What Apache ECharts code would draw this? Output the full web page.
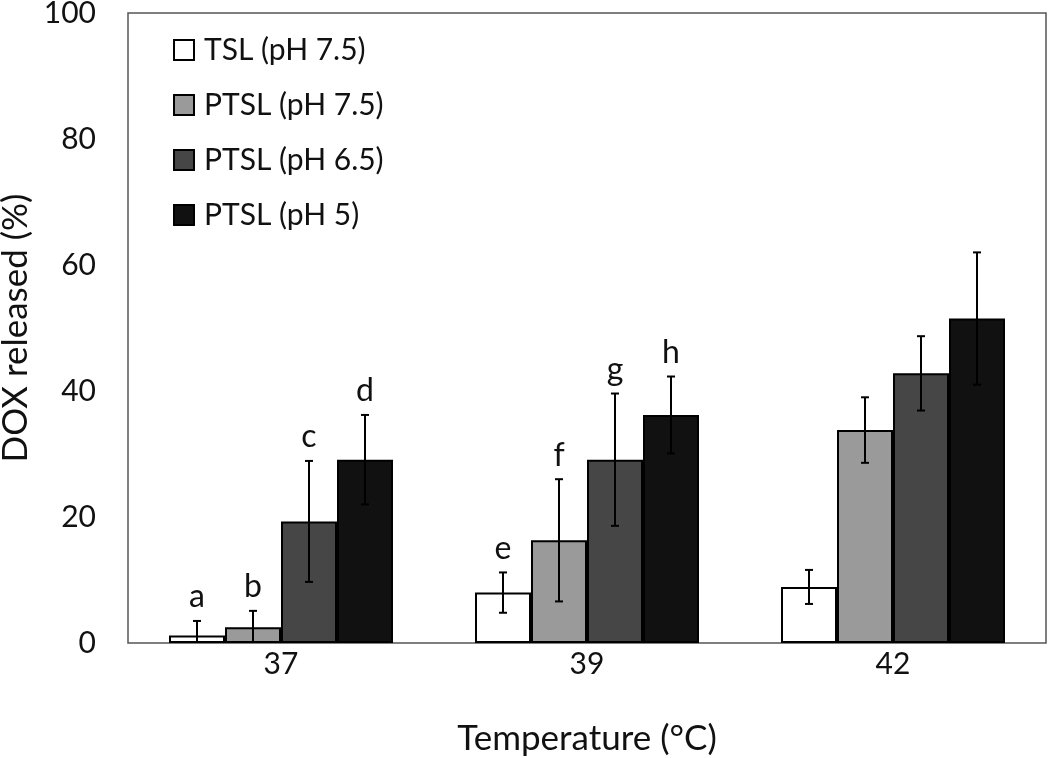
<!DOCTYPE html>
<html>
<head>
<meta charset="utf-8">
<script src="https://cdn.jsdelivr.net/npm/echarts@6/dist/echarts.min.js"></script>
<style>
  html, body { margin: 0; padding: 0; background: #fff; }
  #main { width: 1050px; height: 758px; }
</style>
</head>
<body>
<div id="main"></div>
<script>
// 温度分类
var temps = ['37', '39', '42'];
var seriesNames = ['TSL (pH 7.5)', 'PTSL (pH 7.5)', 'PTSL (pH 6.5)', 'PTSL (pH 5)'];
var barColors = ['#ffffff', '#9a9a9a', '#464646', '#111111'];

// 释放率均值 (%)
var tsl75 = [1.2, 8.0, 8.9];
var ptsl75 = [2.5, 16.3, 33.8];
var ptsl65 = [19.3, 29.1, 42.8];
var ptsl5 = [29.1, 36.2, 51.5];

// 误差 (±)
var tsl75Err = [2.3, 3.2, 2.7];
var ptsl75Err = [2.6, 9.7, 5.2];
var ptsl65Err = [9.6, 10.5, 5.9];
var ptsl5Err = [7.1, 6.1, 10.5];

// 显著性字母
var tsl75Sig = ['a', 'e', ''];
var ptsl75Sig = ['b', 'f', ''];
var ptsl65Sig = ['c', 'g', ''];
var ptsl5Sig = ['d', 'h', ''];

var yTicks = [0, 20, 40, 60, 80, 100];

var means = [tsl75, ptsl75, ptsl65, ptsl5];
var errs = [tsl75Err, ptsl75Err, ptsl65Err, ptsl5Err];
var sigs = [tsl75Sig, ptsl75Sig, ptsl65Sig, ptsl5Sig];

var FONT = 'Lato';
var BAR_W = 56;

var chart = echarts.init(document.getElementById('main'));

var series = [];
for (var s = 0; s < 4; s++) {
    series.push({
        name: seriesNames[s],
        type: 'bar',
        data: means[s],
        barWidth: BAR_W,
        barGap: '0%',
        itemStyle: { color: barColors[s], borderColor: '#000', borderWidth: 2 },
        emphasis: { disabled: true },
        z: 2
    });
}

// 误差线 + 字母
var errData = [];
for (var s2 = 0; s2 < 4; s2++) {
    for (var c = 0; c < temps.length; c++) {
        errData.push([c, means[s2][c], errs[s2][c], s2, sigs[s2][c]]);
    }
}

series.push({
    type: 'custom',
    name: 'err',
    data: errData,
    z: 5,
    silent: true,
    renderItem: function (params, api) {
        var ci = api.value(0), m = api.value(1), e = api.value(2), si = api.value(3);
        var sig = errData[params.dataIndex][4];
        var off = (si - 1.5) * BAR_W;
        var top = api.coord([ci, m + e]);
        var low = api.coord([ci, Math.max(0, m - e)]);
        var x = top[0] + off;
        var cap = 4;
        var st = { stroke: '#000', lineWidth: 2 };
        var children = [
            { type: 'line', shape: { x1: x, y1: top[1], x2: x, y2: low[1] }, style: st },
            { type: 'line', shape: { x1: x - cap, y1: top[1], x2: x + cap, y2: top[1] }, style: st }
        ];
        if (m - e > 0) {
            children.push({ type: 'line', shape: { x1: x - cap, y1: low[1], x2: x + cap, y2: low[1] }, style: st });
        }
        if (sig) {
            children.push({
                type: 'text',
                style: {
                    text: sig, x: x, y: top[1] - 8,
                    textAlign: 'center', textVerticalAlign: 'bottom',
                    fontFamily: FONT, fontSize: 32, fill: '#111'
                }
            });
        }
        return { type: 'group', children: children };
    }
});

var option = {
    animation: false,
    backgroundColor: '#fff',
    grid: {
        left: 128, right: 4, top: 13, bottom: 115,
        show: true, borderColor: '#555', borderWidth: 1.5,
        containLabel: false,
        outerBoundsMode: 'none'
    },
    legend: {
        data: seriesNames,
        orient: 'vertical',
        left: 168, top: 30,
        itemWidth: 20, itemHeight: 20,
        itemGap: 25,
        icon: 'rect',
        selectedMode: false,
        textStyle: { fontFamily: FONT, fontSize: 30, color: '#111', padding: [0, 0, 0, 5] }
    },
    xAxis: {
        type: 'category',
        data: temps,
        name: 'Temperature (°C)',
        nameLocation: 'middle',
        nameGap: 78,
        nameTextStyle: { fontFamily: FONT, fontSize: 35, color: '#111' },
        axisLine: { show: false },
        axisTick: { show: false },
        axisLabel: { fontFamily: FONT, fontSize: 30, color: '#111', margin: 6 }
    },
    yAxis: {
        type: 'value',
        min: yTicks[0], max: yTicks[yTicks.length - 1], interval: 20,
        name: 'DOX released (%)',
        nameLocation: 'middle',
        nameGap: 94,
        nameTextStyle: { fontFamily: FONT, fontSize: 35, color: '#111' },
        axisLine: { show: false },
        axisTick: { show: false },
        splitLine: { show: false },
        axisLabel: { fontFamily: FONT, fontSize: 30, color: '#111', margin: 32 }
    },
    series: series
};

chart.setOption(option);
</script>
</body>
</html>
